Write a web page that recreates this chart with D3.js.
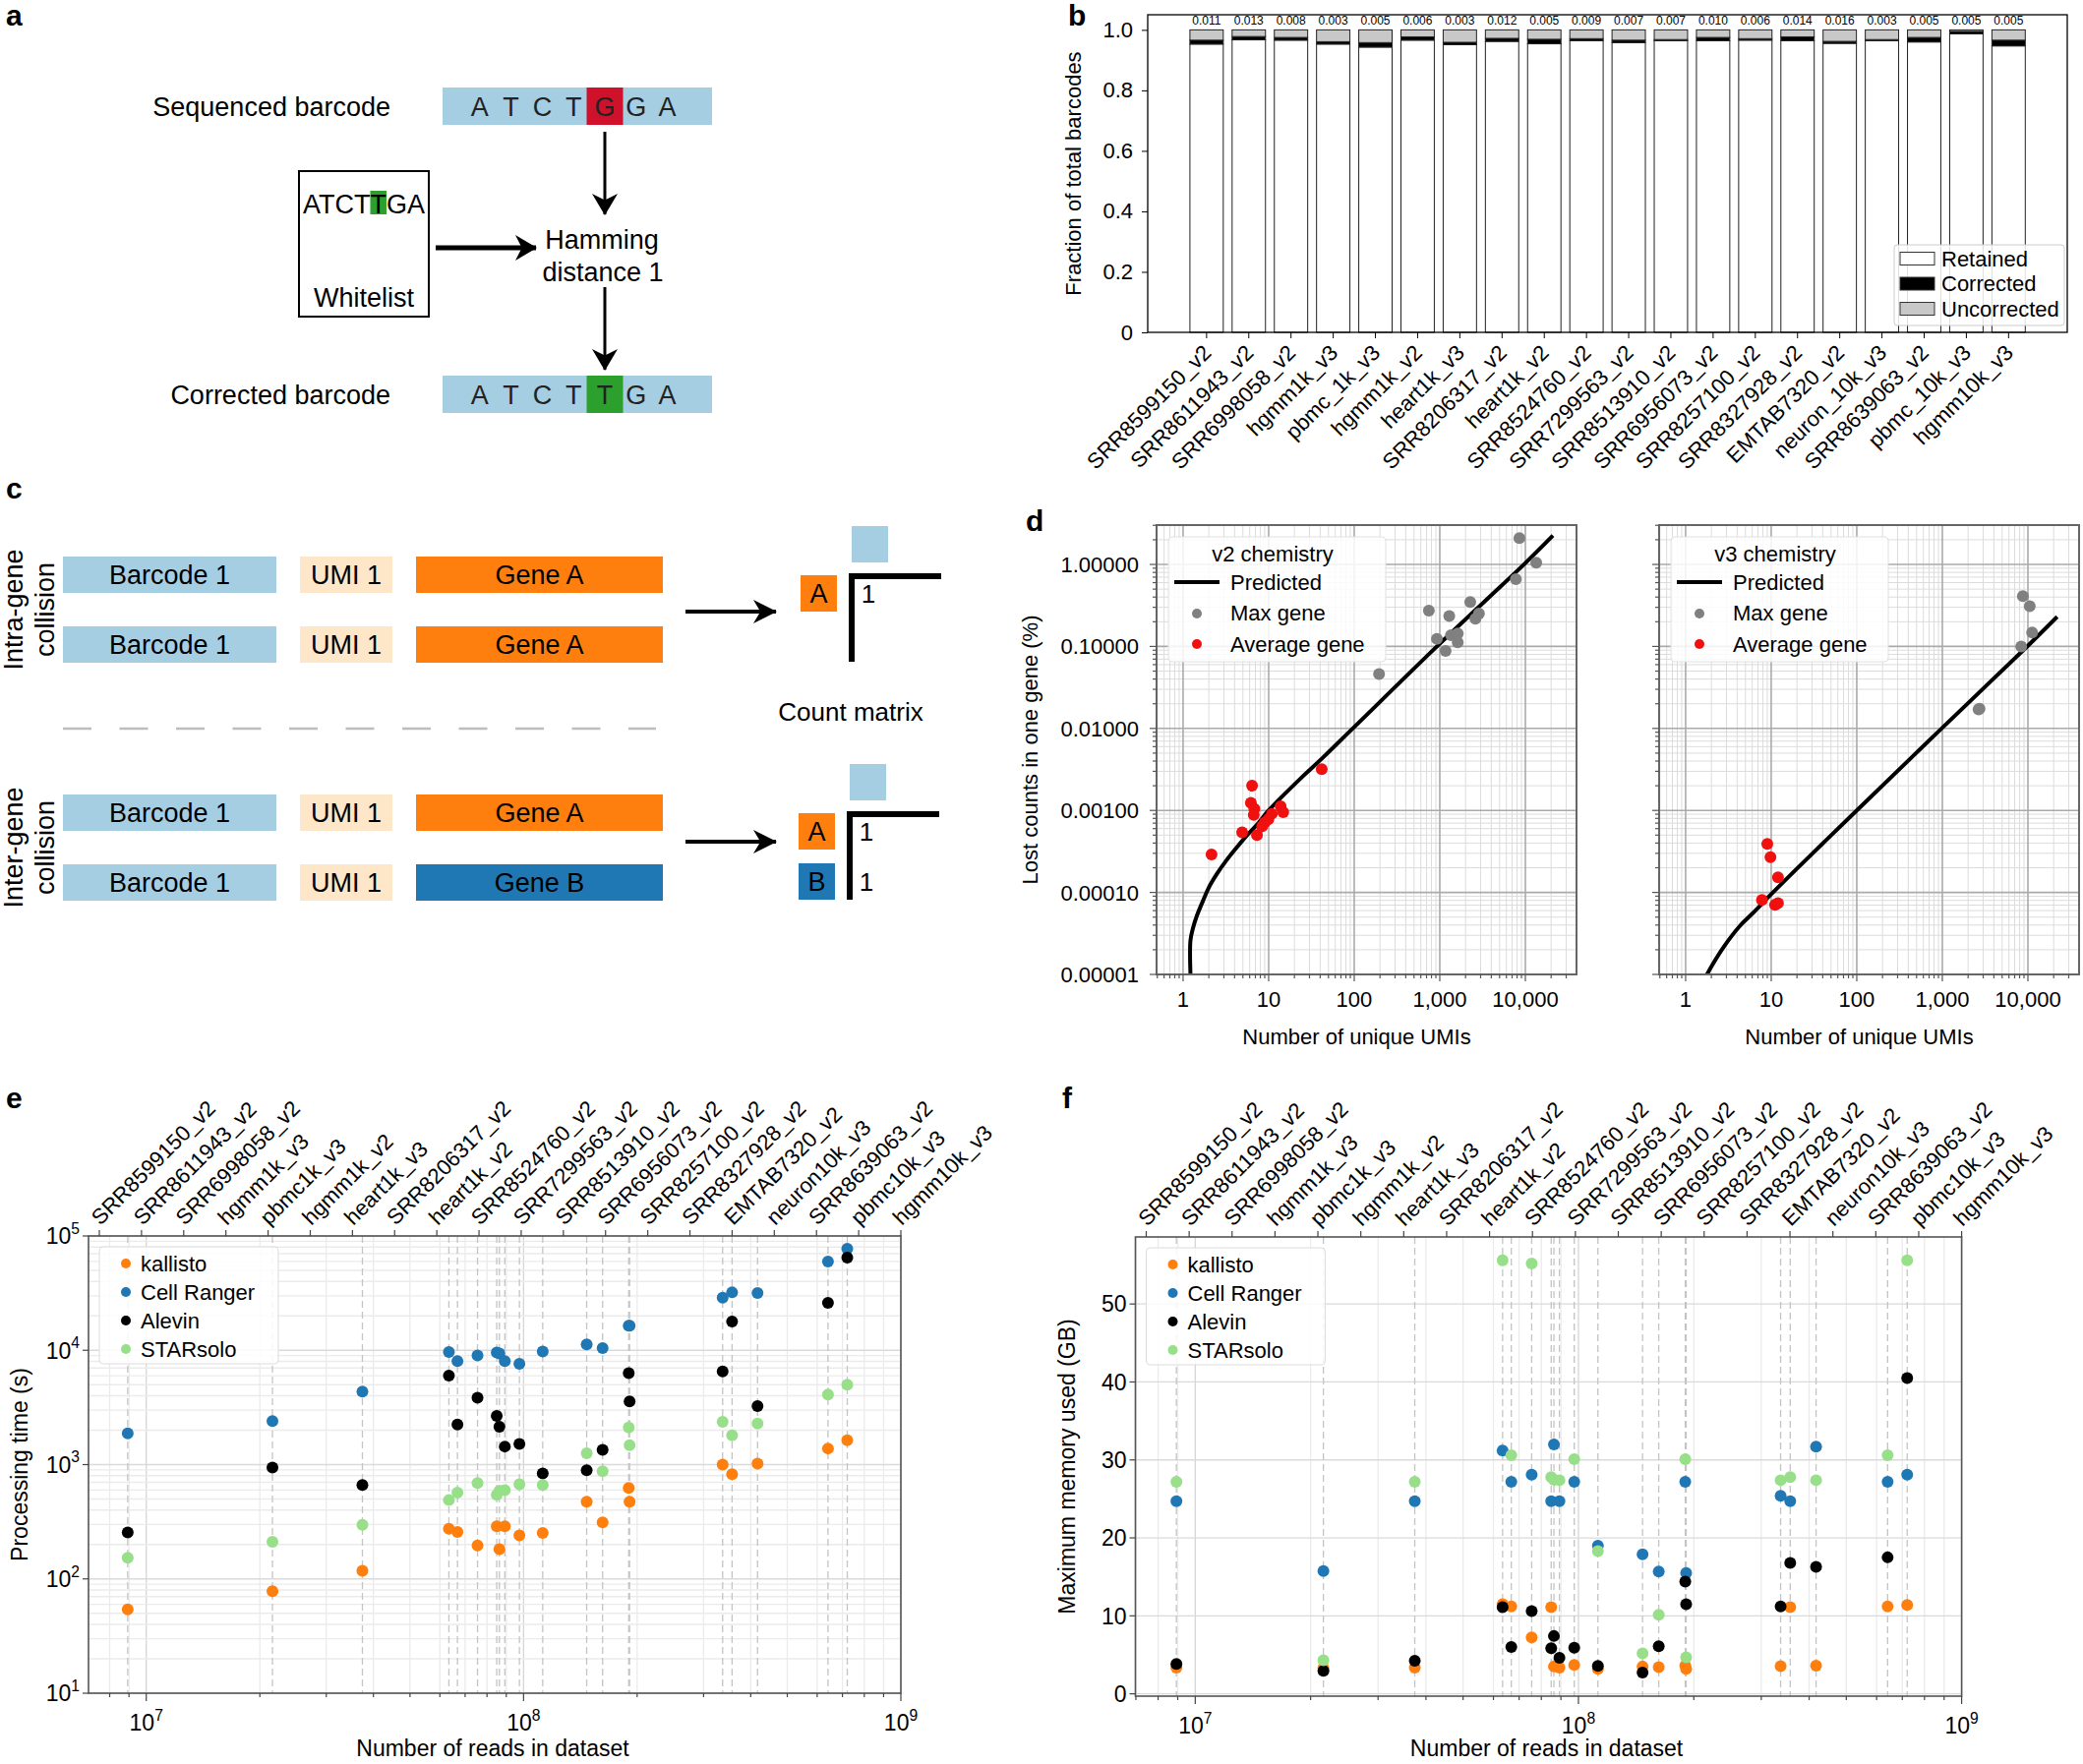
<!DOCTYPE html>
<html><head><meta charset="utf-8">
<script src="https://cdn.jsdelivr.net/npm/d3@7"></script>
<style>
body{margin:0;background:#fff}
svg{display:block}
</style></head><body>
<svg id="fig" width="2118" height="1794"></svg>
<script>
// ---- panel b data ----
var bSamples = ["SRR8599150_v2","SRR8611943_v2","SRR6998058_v2","hgmm1k_v3","pbmc_1k_v3","hgmm1k_v2","heart1k_v3","SRR8206317_v2","heart1k_v2","SRR8524760_v2","SRR7299563_v2","SRR8513910_v2","SRR6956073_v2","SRR8257100_v2","SRR8327928_v2","EMTAB7320_v2","neuron_10k_v3","SRR8639063_v2","pbmc_10k_v3","hgmm10k_v3"];
var bUncorrected = [0.034,0.022,0.025,0.039,0.042,0.023,0.041,0.028,0.031,0.029,0.034,0.032,0.025,0.029,0.023,0.038,0.032,0.025,0.005,0.034];
var bCorrected = [0.013,0.011,0.009,0.008,0.015,0.011,0.008,0.010,0.015,0.0065,0.008,0.004,0.011,0.005,0.013,0.0065,0.004,0.015,0.008,0.019];
var bTopValues = [0.011,0.013,0.008,0.003,0.005,0.006,0.003,0.012,0.005,0.009,0.007,0.007,0.010,0.006,0.014,0.016,0.003,0.005,0.005,0.005];
var bLegendLabels = ["Retained","Corrected","Uncorrected"];
var bLegendFills = ["#ffffff","#000000","#c8c8c8"];

// ---- panel d data ----
var v2PredUmis = [1.22,1.22,1.3,1.45,1.7,2,2.5,3.2,4.2,5.6,7.5,10,25,42,100,1000,10000,21000];
var v2PredLost = [1e-5,2.6e-5,3.6e-5,5.2e-5,7.8e-5,1.15e-4,1.7e-4,2.45e-4,3.5e-4,5e-4,6.9e-4,1.0e-3,2.6e-3,4.3e-3,1.04e-2,0.108,1.04,2.25];
var v3PredUmis = [1.78,2.0,2.77,4.3,6,10,20,39,100,1000,10000,22000];
var v3PredLost = [1e-5,1.25e-5,2.15e-5,3.9e-5,5.5e-5,9.5e-5,1.95e-4,3.85e-4,1.0e-3,1.02e-2,0.102,0.23];
var v2MaxUmis = [8520,13400,7740,2270,745,1290,2870,2610,925,1350,1620,1620,1170,195];
var v2MaxLost = [2.09,1.05,0.66,0.349,0.273,0.235,0.252,0.218,0.124,0.137,0.144,0.112,0.088,0.046];
var v2AvgUmis = [41.7,6.4,6.2,6.8,6.7,4.9,7.3,2.15,13.8,14.8,10.9,9.9,9.0,8.4];
var v2AvgLost = [0.00319,0.0020,0.00124,0.00105,0.00088,0.00054,0.0005,0.00029,0.00112,0.00095,0.00091,0.00078,0.00071,0.00064];
var v3MaxUmis = [8730,10500,11200,8350,2720,2650];
var v3MaxLost = [0.41,0.31,0.148,0.10,0.0174,0.0170];
var v3AvgUmis = [9.0,9.8,12.0,7.8,11.1,12.0];
var v3AvgLost = [0.00039,0.00027,0.000153,0.0000811,0.0000707,0.0000742];
var dLegendLabels = ["Predicted","Max gene","Average gene"];

// ---- panels e, f data ----
var datasetLabels = ["SRR8599150_v2","SRR8611943_v2","SRR6998058_v2","hgmm1k_v3","pbmc1k_v3","hgmm1k_v2","heart1k_v3","SRR8206317_v2","heart1k_v2","SRR8524760_v2","SRR7299563_v2","SRR8513910_v2","SRR6956073_v2","SRR8257100_v2","SRR8327928_v2","EMTAB7320_v2","neuron10k_v3","SRR8639063_v2","pbmc10k_v3","hgmm10k_v3"];
var toolNames = ["kallisto","Cell Ranger","Alevin","STARsolo"];
var toolColors = ["#ff7f0e","#1f77b4","#000000","#98df8a"];
var readsPerDataset = [8.93e6,2.16e7,3.74e7,6.34e7,6.68e7,7.55e7,8.49e7,8.63e7,8.92e7,9.75e7,1.124e8,1.47e8,1.62e8,1.90e8,1.91e8,3.37e8,3.57e8,4.17e8,6.41e8,7.21e8];
var timeKallisto = [54,78,118,275,257,196,288,182,288,240,252,473,312,625,473,1000,826,1020,1383,1633];
var timeCellRanger = [1875,2400,4350,9680,8040,9000,9550,9360,8040,7630,9740,11270,10470,16400,16400,28900,32100,31700,59700,77300];
var timeAlevin = [255,942,664,6010,2245,3840,2667,2143,1439,1517,836,893,1348,6300,3575,6520,17870,3250,26000,64700];
var timeStarsolo = [153,211,297,489,569,690,543,589,597,672,664,1253,875,2113,1479,2366,1804,2290,4100,5000];
var memKallisto = [3.37,3.3,3.37,11.5,11.2,7.24,11.1,3.5,3.37,3.7,3.2,3.5,3.41,3.62,3.2,3.54,11.1,3.62,11.2,11.4];
var memCellRanger = [24.7,15.75,24.7,31.2,27.2,28.1,24.7,32.0,24.7,27.2,19.0,17.9,15.7,27.2,15.5,25.4,24.7,31.7,27.2,28.1];
var memAlevin = [3.83,2.95,4.25,11.1,6.0,10.6,5.85,7.41,4.63,5.9,3.58,2.74,6.1,14.4,11.5,11.2,16.8,16.3,17.5,40.5];
var memStarsolo = [27.2,4.29,27.2,55.6,30.6,55.2,27.8,27.45,27.4,30.1,18.3,5.18,10.15,30.1,4.67,27.4,27.8,27.4,30.6,55.6];

// diagram text
var seqLetters = ["A","T","C","T","G","G","A"];
var corrLetters = ["A","T","C","T","T","G","A"];

var FONT = '"Liberation Sans", Arial, Helvetica, sans-serif';
var svg = d3.select("#fig").attr("font-family", FONT);
var defs = svg.append("defs");

var isDecade = function(v){ var l = Math.log10(v); return Math.abs(l - Math.round(l)) < 1e-6; };
var supText = function(sel, exp, fs){
	sel.text("10");
	sel.append("tspan").attr("dy", -fs*0.45).attr("font-size", fs*0.68).text(exp);
};
function arrowMarker(id, len, wid){
	defs.append("marker").attr("id", id)
		.attr("viewBox", "0 0 "+len+" "+wid)
		.attr("refX", len-1).attr("refY", wid/2)
		.attr("markerWidth", len).attr("markerHeight", wid)
		.attr("markerUnits", "userSpaceOnUse").attr("orient", "auto")
		.append("path")
		.attr("d", "M0,0 L"+len+","+(wid/2)+" L0,"+wid+" L"+(len*0.3)+","+(wid/2)+" Z")
		.attr("fill", "#000");
}
arrowMarker("headA", 22, 26);
arrowMarker("headC", 24, 24);

// panel letters
[["a",6,26],["b",1086,26],["c",6,507],["d",1043,540],["e",6,1127],["f",1080,1127]].forEach(function(p){
	svg.append("text").attr("x", p[1]).attr("y", p[2]).attr("font-size", 30).attr("font-weight", "bold").text(p[0]);
});

// ================= panel a =================
(function(){
	var g = svg.append("g").attr("font-size", 27);
	var cell = 31.8, hiCx = 615;
	function row(y0, letters, hiColor, label){
		g.append("rect").attr("x", 450).attr("y", y0).attr("width", 274).attr("height", 38).attr("fill", "#a6cee3");
		g.append("rect").attr("x", hiCx-18.5).attr("y", y0).attr("width", 37).attr("height", 38).attr("fill", hiColor);
		g.selectAll(null).data(letters).enter().append("text")
			.attr("x", function(d,i){ return hiCx + (i-4)*cell; })
			.attr("y", y0+19).attr("dy", "0.36em").attr("text-anchor", "middle").attr("fill", "#222")
			.text(function(d){ return d; });
		g.append("text").attr("x", 397).attr("y", y0+19).attr("dy", "0.36em").attr("text-anchor", "end").text(label);
	}
	row(89, seqLetters, "#d0112b", "Sequenced barcode");
	row(382, corrLetters, "#2ca02c", "Corrected barcode");
	// whitelist box
	g.append("rect").attr("x", 304).attr("y", 174).attr("width", 132).attr("height", 148)
		.attr("fill", "none").attr("stroke", "#000").attr("stroke-width", 2);
	var wl = g.append("text").attr("x", 370).attr("y", 207).attr("dy", "0.36em").attr("text-anchor", "middle").text("ATCTTGA");
	var ext = wl.node().getExtentOfChar(4);
	g.insert("rect", function(){ return wl.node(); })
		.attr("x", ext.x).attr("y", 194).attr("width", ext.width).attr("height", 24).attr("fill", "#2ca02c");
	g.append("text").attr("x", 370).attr("y", 302).attr("dy", "0.36em").attr("text-anchor", "middle").text("Whitelist");
	g.append("text").attr("x", 612).attr("y", 243).attr("dy", "0.36em").attr("text-anchor", "middle").text("Hamming");
	g.append("text").attr("x", 613).attr("y", 276).attr("dy", "0.36em").attr("text-anchor", "middle").text("distance 1");
	g.append("line").attr("x1", 443).attr("y1", 252).attr("x2", 545).attr("y2", 252)
		.attr("stroke", "#000").attr("stroke-width", 5).attr("marker-end", "url(#headA)");
	g.append("line").attr("x1", hiCx).attr("y1", 134).attr("x2", hiCx).attr("y2", 218)
		.attr("stroke", "#000").attr("stroke-width", 3).attr("marker-end", "url(#headA)");
	g.append("line").attr("x1", hiCx).attr("y1", 292).attr("x2", hiCx).attr("y2", 376)
		.attr("stroke", "#000").attr("stroke-width", 3).attr("marker-end", "url(#headA)");
})();

// ================= panel c =================
(function(){
	var g = svg.append("g").attr("font-size", 27);
	var rowTops = [566, 637, 808, 879];
	var genes = ["Gene A","Gene A","Gene A","Gene B"];
	var geneColors = ["#ff7f0e","#ff7f0e","#ff7f0e","#1f77b4"];
	rowTops.forEach(function(y0, i){
		[[64,217,"#a6cee3","Barcode 1"],[305,94,"#fee6c9","UMI 1"],[423,251,geneColors[i],genes[i]]].forEach(function(b){
			g.append("rect").attr("x", b[0]).attr("y", y0).attr("width", b[1]).attr("height", 37).attr("fill", b[2]);
			g.append("text").attr("x", b[0]+b[1]/2).attr("y", y0+18.5).attr("dy", "0.36em").attr("text-anchor", "middle").text(b[3]);
		});
	});
	[["Intra-gene","collision",620],["Inter-gene","collision",862]].forEach(function(l){
		g.append("text").attr("transform", "translate(13,"+l[2]+") rotate(-90)").attr("dy", "0.36em").attr("text-anchor", "middle").text(l[0]);
		g.append("text").attr("transform", "translate(45,"+l[2]+") rotate(-90)").attr("dy", "0.36em").attr("text-anchor", "middle").text(l[1]);
	});
	g.append("line").attr("x1", 64).attr("x2", 667).attr("y1", 741).attr("y2", 741)
		.attr("stroke", "#bdbdbd").attr("stroke-width", 2.5).attr("stroke-dasharray", "29,28.5");
	[622, 856].forEach(function(yy){
		g.append("line").attr("x1", 697).attr("x2", 789).attr("y1", yy).attr("y2", yy)
			.attr("stroke", "#000").attr("stroke-width", 4).attr("marker-end", "url(#headC)");
	});
	// count matrices
	function matrix(x0, y0, rows){
		g.append("rect").attr("x", x0).attr("y", y0-50).attr("width", 37).attr("height", 37).attr("fill", "#a6cee3");
		rows.forEach(function(r, i){
			var yy = y0 + i*51;
			g.append("rect").attr("x", x0-52).attr("y", yy).attr("width", 37).attr("height", 37).attr("fill", r[1]);
			g.append("text").attr("x", x0-33.5).attr("y", yy+18.5).attr("dy", "0.36em").attr("text-anchor", "middle").text(r[0]);
			g.append("text").attr("x", x0+17).attr("y", yy+18.5).attr("dy", "0.36em").attr("text-anchor", "middle").attr("font-size", 26).text("1");
		});
		g.append("line").attr("x1", x0).attr("x2", x0).attr("y1", y0-2).attr("y2", y0+88).attr("stroke", "#000").attr("stroke-width", 6);
		g.append("line").attr("x1", x0-3).attr("x2", x0+91).attr("y1", y0+1).attr("y2", y0+1).attr("stroke", "#000").attr("stroke-width", 6);
	}
	matrix(866, 585, [["A","#ff7f0e"]]);
	matrix(864, 827, [["A","#ff7f0e"],["B","#1f77b4"]]);
	g.append("text").attr("x", 865).attr("y", 724).attr("dy", "0.36em").attr("text-anchor", "middle").attr("font-size", 26).text("Count matrix");
})();

// ================= panel b =================
(function(){
	var left = 1167, right = 2102, top = 15, bottom = 338;
	var g = svg.append("g");
	var x = d3.scaleBand().domain(bSamples).range([1205.4, 2063.8]).paddingInner(0.21).paddingOuter(0.105);
	var y = d3.scaleLinear().domain([0, 1.05]).range([bottom, top]);
	var rows = bSamples.map(function(s, i){
		return {name: s, retained: 1 - bUncorrected[i] - bCorrected[i], corrected: bCorrected[i], uncorrected: bUncorrected[i]};
	});
	var series = d3.stack().keys(["retained","corrected","uncorrected"])(rows);
	g.selectAll("g.layer").data(series).enter().append("g")
		.attr("fill", function(d, i){ return bLegendFills[i]; })
		.selectAll("rect").data(function(d){ return d; }).enter().append("rect")
		.attr("x", function(d){ return x(d.data.name); })
		.attr("width", x.bandwidth())
		.attr("y", function(d){ return y(d[1]); })
		.attr("height", function(d){ return y(d[0]) - y(d[1]); })
		.attr("stroke", "#222").attr("stroke-width", 1);
	g.selectAll("text.val").data(bTopValues).enter().append("text")
		.attr("x", function(d, i){ return x(bSamples[i]) + x.bandwidth()/2; })
		.attr("y", y(1) - 5).attr("text-anchor", "middle").attr("font-size", 12)
		.text(function(d){ return d3.format(".3f")(d); });
	g.append("rect").attr("x", left).attr("y", top).attr("width", right-left).attr("height", bottom-top)
		.attr("fill", "none").attr("stroke", "#000").attr("stroke-width", 1.3);
	var ya = g.append("g").attr("transform", "translate("+left+",0)")
		.call(d3.axisLeft(y).tickValues([0,0.2,0.4,0.6,0.8,1.0])
			.tickFormat(function(d){ return d === 0 ? "0" : d3.format(".1f")(d); }).tickSize(6).tickPadding(9));
	ya.select(".domain").remove();
	ya.attr("font-family", FONT).attr("font-size", 22);
	ya.selectAll(".tick text").attr("fill", "#000");
	var xa = g.append("g").attr("transform", "translate(0,"+bottom+")").call(d3.axisBottom(x).tickSize(6));
	xa.select(".domain").remove();
	xa.attr("font-family", FONT).attr("font-size", 22);
	xa.selectAll(".tick text").attr("fill", "#000").attr("y", null).attr("dy", null)
		.attr("text-anchor", "end").attr("transform", "translate(6,22) rotate(-45)");
	g.append("text").attr("transform", "translate(1091,"+((top+bottom)/2)+") rotate(-90)")
		.attr("text-anchor", "middle").attr("dy", "0.36em").attr("font-size", 22).text("Fraction of total barcodes");
	// legend
	var lg = g.append("g");
	lg.append("rect").attr("x", 1926).attr("y", 249).attr("width", 173).attr("height", 82).attr("rx", 3)
		.attr("fill", "#fff").attr("fill-opacity", 0.85).attr("stroke", "#ccc");
	bLegendLabels.forEach(function(l, i){
		var cy = 263 + i*25.5;
		lg.append("rect").attr("x", 1932).attr("y", cy-6.5).attr("width", 35).attr("height", 13)
			.attr("fill", bLegendFills[i]).attr("stroke", "#333").attr("stroke-width", 1);
		lg.append("text").attr("x", 1974).attr("y", cy).attr("dy", "0.36em").attr("font-size", 22).text(l);
	});
})();

// ================= panel d =================
function drawD(cfg){
	var g = svg.append("g");
	var L = cfg.left, R = cfg.left + 427, T = 534, B = 991;
	var x = d3.scaleLog().domain([0.49, 39600]).range([L, R]);
	var y = d3.scaleLog().domain([1e-5, 3.02]).range([B, T]);
	var xt = x.ticks(), yt = y.ticks();
	var grid = g.append("g");
	[false, true].forEach(function(major){
		grid.selectAll(null).data(xt.filter(function(v){ return isDecade(v) === major; })).enter().append("line")
			.attr("x1", function(d){ return x(d); }).attr("x2", function(d){ return x(d); })
			.attr("y1", T).attr("y2", B)
			.attr("stroke", major ? "#aaaaaa" : "#dcdcdc").attr("stroke-width", major ? 1.6 : 1);
		grid.selectAll(null).data(yt.filter(function(v){ return isDecade(v) === major; })).enter().append("line")
			.attr("y1", function(d){ return y(d); }).attr("y2", function(d){ return y(d); })
			.attr("x1", L).attr("x2", R)
			.attr("stroke", major ? "#aaaaaa" : "#dcdcdc").attr("stroke-width", major ? 1.6 : 1);
	});
	defs.append("clipPath").attr("id", "clip"+cfg.id).append("rect")
		.attr("x", L).attr("y", T).attr("width", R-L).attr("height", B-T);
	var line = d3.line().x(function(d){ return x(d[0]); }).y(function(d){ return y(d[1]); }).curve(d3.curveCatmullRom.alpha(0.5));
	g.append("path").datum(d3.zip(cfg.predX, cfg.predY)).attr("d", line)
		.attr("fill", "none").attr("stroke", "#000").attr("stroke-width", 4).attr("clip-path", "url(#clip"+cfg.id+")");
	g.selectAll(null).data(d3.zip(cfg.maxX, cfg.maxY)).enter().append("circle")
		.attr("cx", function(d){ return x(d[0]); }).attr("cy", function(d){ return y(d[1]); })
		.attr("r", 6).attr("fill", "#808080");
	g.selectAll(null).data(d3.zip(cfg.avgX, cfg.avgY)).enter().append("circle")
		.attr("cx", function(d){ return x(d[0]); }).attr("cy", function(d){ return y(d[1]); })
		.attr("r", 6).attr("fill", "#f01010");
	g.append("rect").attr("x", L).attr("y", T).attr("width", R-L).attr("height", B-T)
		.attr("fill", "none").attr("stroke", "#666").attr("stroke-width", 2);
	// ticks
	g.selectAll(null).data(xt).enter().append("line")
		.attr("x1", function(d){ return x(d); }).attr("x2", function(d){ return x(d); })
		.attr("y1", B).attr("y2", function(d){ return B + (isDecade(d) ? 7 : 4); })
		.attr("stroke", "#555").attr("stroke-width", 1.2);
	g.selectAll(null).data(yt).enter().append("line")
		.attr("y1", function(d){ return y(d); }).attr("y2", function(d){ return y(d); })
		.attr("x1", L).attr("x2", function(d){ return L - (isDecade(d) ? 7 : 4); })
		.attr("stroke", "#555").attr("stroke-width", 1.2);
	g.selectAll(null).data(xt.filter(isDecade)).enter().append("text")
		.attr("x", function(d){ return x(d); }).attr("y", 1016).attr("dy", "0.36em")
		.attr("text-anchor", "middle").attr("font-size", 22).text(d3.format(","));
	if(cfg.yLabels){
		g.selectAll(null).data(yt.filter(isDecade)).enter().append("text")
			.attr("x", L - 18).attr("y", function(d){ return y(d); }).attr("dy", "0.36em")
			.attr("text-anchor", "end").attr("font-size", 22).text(d3.format(".5f"));
		g.append("text").attr("transform", "translate(1047,"+((T+B)/2)+") rotate(-90)")
			.attr("text-anchor", "middle").attr("dy", "0.36em").attr("font-size", 22).text("Lost counts in one gene (%)");
	}
	g.append("text").attr("x", (L+R)/2 - 10).attr("y", 1054).attr("dy", "0.36em")
		.attr("text-anchor", "middle").attr("font-size", 22).text("Number of unique UMIs");
	// legend
	var bx = L + 12, by = 546;
	var lg = g.append("g");
	lg.append("rect").attr("x", bx).attr("y", by).attr("width", 221).attr("height", 127).attr("rx", 4)
		.attr("fill", "#fff").attr("fill-opacity", 0.85).attr("stroke", "#e0e0e0");
	lg.append("text").attr("x", bx+106).attr("y", by+17).attr("dy", "0.36em").attr("text-anchor", "middle").attr("font-size", 22).text(cfg.title);
	lg.append("line").attr("x1", bx+6).attr("x2", bx+52).attr("y1", by+46).attr("y2", by+46).attr("stroke", "#000").attr("stroke-width", 4);
	lg.append("circle").attr("cx", bx+29).attr("cy", by+78).attr("r", 5).attr("fill", "#808080");
	lg.append("circle").attr("cx", bx+29).attr("cy", by+109).attr("r", 5).attr("fill", "#f01010");
	dLegendLabels.forEach(function(l, i){
		lg.append("text").attr("x", bx+63).attr("y", by+46+i*31.5).attr("dy", "0.36em").attr("font-size", 22).text(l);
	});
}
drawD({id: "v2", left: 1176, title: "v2 chemistry", yLabels: true,
	predX: v2PredUmis, predY: v2PredLost, maxX: v2MaxUmis, maxY: v2MaxLost, avgX: v2AvgUmis, avgY: v2AvgLost});
drawD({id: "v3", left: 1687, title: "v3 chemistry", yLabels: false,
	predX: v3PredUmis, predY: v3PredLost, maxX: v3MaxUmis, maxY: v3MaxLost, avgX: v3AvgUmis, avgY: v3AvgLost});

// ================= panels e, f =================
function drawTools(cfg){
	var g = svg.append("g");
	var L = cfg.left, R = cfg.right, T = cfg.top, B = cfg.bottom;
	var x = d3.scaleLog().domain([cfg.xMin, 1e9]).range([L, R]);
	var y = cfg.y;
	var xt = x.ticks();
	g.append("g").selectAll("line").data(xt).enter().append("line")
		.attr("x1", function(d){ return x(d); }).attr("x2", function(d){ return x(d); })
		.attr("y1", T).attr("y2", B)
		.attr("stroke", function(d){ return isDecade(d) ? "#d6d6d6" : "#ebebeb"; }).attr("stroke-width", 1.3);
	g.append("g").selectAll("line").data(cfg.hGrid).enter().append("line")
		.attr("y1", function(d){ return y(d); }).attr("y2", function(d){ return y(d); })
		.attr("x1", L).attr("x2", R)
		.attr("stroke", function(d){ return cfg.hMajor(d) ? "#dadada" : "#ebebeb"; }).attr("stroke-width", 1.3);
	g.append("g").selectAll("line").data(readsPerDataset).enter().append("line")
		.attr("x1", function(d){ return x(d); }).attr("x2", function(d){ return x(d); })
		.attr("y1", T).attr("y2", B)
		.attr("stroke", "#c4c4c4").attr("stroke-width", 1.3).attr("stroke-dasharray", "7,4");
	cfg.series.forEach(function(vals, k){
		g.append("g").selectAll("circle").data(vals).enter().append("circle")
			.attr("cx", function(d, i){ return x(readsPerDataset[i]); })
			.attr("cy", function(d){ return y(d); })
			.attr("r", 6).attr("fill", toolColors[k]);
	});
	g.append("rect").attr("x", L).attr("y", T).attr("width", R-L).attr("height", B-T)
		.attr("fill", "none").attr("stroke", "#555").attr("stroke-width", 1.6);
	// bottom axis
	g.selectAll(null).data(xt).enter().append("line")
		.attr("x1", function(d){ return x(d); }).attr("x2", function(d){ return x(d); })
		.attr("y1", B).attr("y2", function(d){ return B + (isDecade(d) ? 8 : 4); })
		.attr("stroke", "#444").attr("stroke-width", 1.2);
	g.selectAll(null).data(xt.filter(isDecade)).enter().append("text")
		.attr("x", function(d){ return x(d); }).attr("y", B + 30).attr("dy", "0.36em")
		.attr("text-anchor", "middle").attr("font-size", 23)
		.each(function(d){ supText(d3.select(this), Math.round(Math.log10(d)), 23); });
	// left axis
	g.selectAll(null).data(cfg.yTicks).enter().append("line")
		.attr("y1", function(d){ return y(d); }).attr("y2", function(d){ return y(d); })
		.attr("x1", L).attr("x2", L - 6).attr("stroke", "#444").attr("stroke-width", 1.2);
	g.selectAll(null).data(cfg.yTicks).enter().append("text")
		.attr("x", L - 9).attr("y", function(d){ return y(d); }).attr("dy", "0.36em")
		.attr("text-anchor", "end").attr("font-size", 23)
		.each(function(d){
			if(cfg.logY) supText(d3.select(this), Math.round(Math.log10(d)), 23);
			else d3.select(this).text(d);
		});
	// top category labels
	var top = d3.scalePoint().domain(datasetLabels).range([L + 11, R]);
	g.selectAll(null).data(datasetLabels).enter().append("line")
		.attr("x1", function(d){ return top(d); }).attr("x2", function(d){ return top(d); })
		.attr("y1", T).attr("y2", T - 6).attr("stroke", "#444").attr("stroke-width", 1.2);
	g.selectAll(null).data(datasetLabels).enter().append("text")
		.attr("transform", function(d){ return "translate("+(top(d)+1)+","+(T - 10)+") rotate(-45)"; })
		.attr("font-size", 22).text(function(d){ return d; });
	// titles
	g.append("text").attr("transform", "translate("+cfg.yTitleX+","+((T+B)/2)+") rotate(-90)")
		.attr("text-anchor", "middle").attr("dy", "0.36em").attr("font-size", 23).text(cfg.yTitle);
	g.append("text").attr("x", (L+R)/2 - 2).attr("y", 1786)
		.attr("text-anchor", "middle").attr("font-size", 23).text("Number of reads in dataset");
	// legend
	var bx = L + 11, by = T + 11;
	var lg = g.append("g");
	lg.append("rect").attr("x", bx).attr("y", by).attr("width", 182).attr("height", 119).attr("rx", 4)
		.attr("fill", "#fff").attr("fill-opacity", 0.85).attr("stroke", "#dcdcdc");
	toolNames.forEach(function(n, i){
		var cy = by + 17 + i*29;
		lg.append("circle").attr("cx", bx+27).attr("cy", cy).attr("r", 5).attr("fill", toolColors[i]);
		lg.append("text").attr("x", bx+42).attr("y", cy).attr("dy", "0.36em").attr("font-size", 22).text(n);
	});
}
var eY = d3.scaleLog().domain([10, 1e5]).range([1722, 1257]);
drawTools({left: 90, right: 916, top: 1257, bottom: 1722, xMin: 7.03e6, y: eY, logY: true,
	hGrid: eY.ticks(), hMajor: isDecade, yTicks: [10,100,1000,10000,100000],
	yTitle: "Processing time (s)", yTitleX: 20,
	series: [timeKallisto, timeCellRanger, timeAlevin, timeStarsolo]});
var fY = d3.scaleLinear().domain([-0.3, 58.6]).range([1725, 1258]);
drawTools({left: 1154.5, right: 1994.6, top: 1258, bottom: 1725, xMin: 6.98e6, y: fY, logY: false,
	hGrid: [0,10,20,30,40,50], hMajor: function(){ return true; }, yTicks: [0,10,20,30,40,50],
	yTitle: "Maximum memory used (GB)", yTitleX: 1085,
	series: [memKallisto, memCellRanger, memAlevin, memStarsolo]});
</script></body></html>
